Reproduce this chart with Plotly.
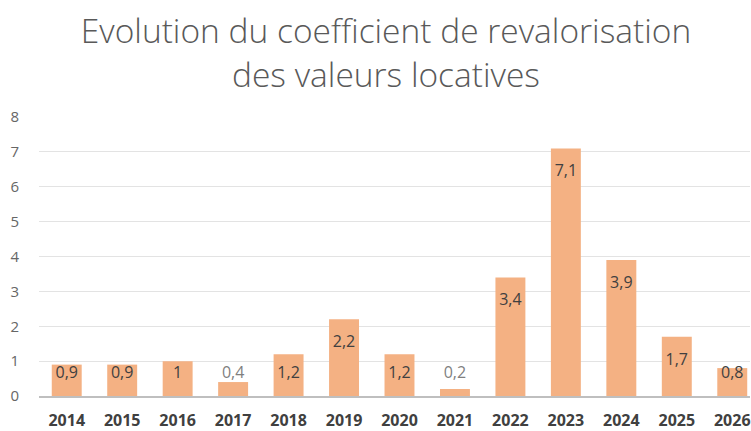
import plotly.graph_objects as go

years = ["2014", "2015", "2016", "2017", "2018", "2019", "2020",
         "2021", "2022", "2023", "2024", "2025", "2026"]
values = [0.9, 0.9, 1.0, 0.4, 1.2, 2.2, 1.2, 0.2, 3.4, 7.1, 3.9, 1.7, 0.8]
y_ticks = [0, 1, 2, 3, 4, 5, 6, 7, 8]
title_lines = ["Evolution du coefficient de revalorisation", "des valeurs locatives"]

W, H = 751, 431
FONT = "Open Sans"

fig = go.Figure()
fig.add_trace(go.Bar(
    x=years, y=values,
    marker=dict(color="#F4B183", line=dict(width=0)),
    hoverinfo="x+y",
))

# data labels (Excel-style "inside end", small bars overflow upward)
offset = 0.69
labels = [f"{v:g}".replace(".", ",") for v in values]
label_y = [max(v - offset, 0.62) for v in values]
label_col = ["#404040" if v >= 0.8 else "#7f7f7f" for v in values]
fig.add_trace(go.Scatter(
    x=years, y=label_y, text=labels, mode="text",
    textposition="middle center",
    textfont=dict(family=FONT, size=16, color=label_col),
    hoverinfo="skip",
))

fig.update_layout(
    width=W, height=H,
    paper_bgcolor="white", plot_bgcolor="white",
    margin=dict(l=39, r=0, t=117, b=32),
    bargap=0.46,
    showlegend=False,
    title=dict(
        text="<br>".join(title_lines),
        x=386 / W, xanchor="center", y=1 - 43 / H, yref="container", yanchor="middle",
        font=dict(family=FONT, size=33.5, color="#595959", weight=300),
    ),
    xaxis=dict(
        type="category", range=[-0.5, 12.32],
        showgrid=False, showline=True, linecolor="#BFBFBF", linewidth=2,
        ticks="", tickfont=dict(family=FONT, size=16, color="#404040", weight="bold"),
        ticklabelstandoff=9,
    ),
    yaxis=dict(
        range=[0, 8], tickvals=y_ticks, showgrid=True, gridcolor="#E3E3E3", gridwidth=1,
        zeroline=False, showline=False, ticks="",
        tickfont=dict(family=FONT, size=15, color="#666666"),
        ticklabelstandoff=19,
    ),
)

fig.write_html("out.html", config={"displayModeBar": False},
               post_script="document.body.style.margin='0';")
